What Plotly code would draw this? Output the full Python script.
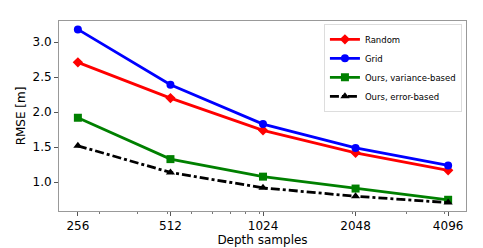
import plotly.graph_objects as go
import math

samples = [256, 512, 1024, 2048, 4096]
tick_labels = ["256", "512", "1024", "2048", "4096"]
minor_ticks = [300, 400, 500, 600, 700, 800, 900, 1000, 2000, 3000, 4000]
random_vals = [2.71, 2.20, 1.74, 1.42, 1.17]
grid_vals = [3.18, 2.39, 1.83, 1.49, 1.24]
var_vals = [1.92, 1.33, 1.08, 0.91, 0.75]
err_vals = [1.52, 1.14, 0.92, 0.80, 0.71]

fig = go.Figure()
series = [
    ("Random", random_vals, "#ff0000", "diamond", "solid"),
    ("Grid", grid_vals, "#0000ff", "circle", "solid"),
    ("Ours, variance-based", var_vals, "#008000", "square", "solid"),
    ("Ours, error-based", err_vals, "#000000", "triangle-up", "dashdot"),
]
for name, vals, col, sym, dash in series:
    fig.add_trace(go.Scatter(
        x=samples, y=vals, name=name, mode="lines+markers",
        line=dict(color=col, width=2.8, dash=dash),
        marker=dict(symbol=sym, size=8, color=col),
    ))

l2 = math.log10(2)
fig.update_layout(
    width=483, height=248,
    margin=dict(l=48, r=25, t=12, b=30),
    paper_bgcolor="white", plot_bgcolor="white",
    font=dict(family="DejaVu Sans", color="black", size=12),
    showlegend=True,
    legend=dict(x=0.99, y=0.985, xanchor="right", yanchor="top",
                bgcolor="white", bordercolor="#dddddd", borderwidth=1,
                font=dict(size=8.5), tracegroupgap=0, itemwidth=30),
    xaxis=dict(type="log", range=[7.796 * l2, 12.193 * l2],
               tickvals=samples, ticktext=tick_labels,
               showgrid=False, zeroline=False,
               showline=True, linecolor="#999999", linewidth=1, mirror=True,
               ticks="outside", ticklen=4, tickcolor="#555555",
               minor=dict(tickmode="array", tickvals=minor_ticks, ticks="outside",
                          ticklen=2, tickcolor="#777777", showgrid=False),
               title=dict(text="Depth samples", font=dict(size=12), standoff=2),
               tickfont=dict(size=12)),
    yaxis=dict(range=[0.59, 3.30], tickvals=[1.0, 1.5, 2.0, 2.5, 3.0],
               ticktext=["1.0", "1.5", "2.0", "2.5", "3.0"],
               showgrid=False, zeroline=False,
               showline=True, linecolor="#999999", linewidth=1, mirror=True,
               ticks="outside", ticklen=4, tickcolor="#555555",
               title=dict(text="RMSE [m]", font=dict(size=12), standoff=4),
               tickfont=dict(size=12)),
)
fig.write_html("out.html")
